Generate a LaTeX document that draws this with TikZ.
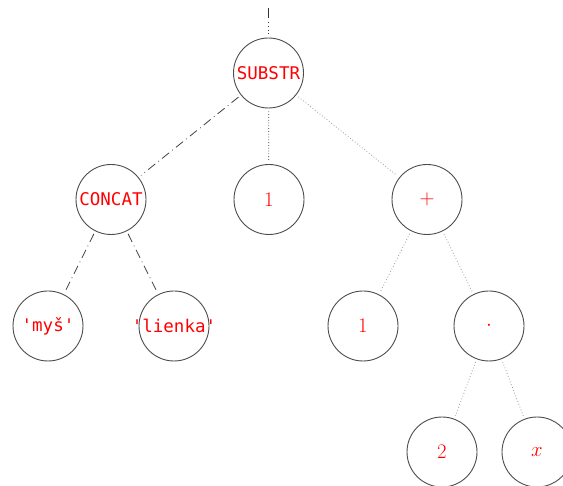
\documentclass[tikz,border=0pt]{standalone}
\usepackage{fontspec}
\newfontfamily\monofont{DejaVu Sans Mono}
\begin{document}
\begin{tikzpicture}[x=1pt,y=-1pt,
  tn/.style={circle,draw=black!70,line width=0.9pt,minimum size=70pt,inner sep=0pt},
  lab/.style={text=red,inner sep=0pt,font=\fontsize{20}{22}\selectfont},
  mono/.style={text=red,inner sep=0pt,font=\fontsize{17.5}{20}\selectfont\monofont},
  dd/.style={draw=black!75,line width=0.8pt,dash pattern=on 9pt off 4pt on 0.8pt off 4pt,shorten <=3pt,shorten >=3pt},
  dk/.style={draw=black!80,line width=0.8pt,dash pattern=on 0.8pt off 2pt,shorten <=3pt,shorten >=3pt},
  lg/.style={draw=black!40,line width=0.8pt,dash pattern=on 0.8pt off 2.2pt,shorten <=3pt,shorten >=3pt}]
\useasboundingbox (0,0) rectangle (563,486);
\node[tn,label={[mono]center:SUBSTR}] (s) at (268.5,73) {};
\node[tn,label={[mono]center:CONCAT}] (c) at (111,199.5) {};
\node[tn,label={[lab]center:$1$}] (o1) at (269,199.5) {};
\node[tn,label={[lab]center:$+$}] (p) at (427,199.5) {};
\node[tn,label={[mono]center:'myš'}] (m) at (48,326) {};
\node[tn,label={[mono]center:'lienka'}] (l) at (174,326) {};
\node[tn,label={[lab]center:$1$}] (o2) at (363,326) {};
\node[tn,label={[lab]center:$\cdot$}] (d) at (489,326) {};
\node[tn,label={[lab]center:$2$}] (t) at (442,452) {};
\node[tn,label={[lab]center:$x$}] (x) at (537,452) {};
\coordinate (top) at (268.5,8);
\draw[draw=black!80,line width=0.8pt,dash pattern=on 10pt off 4pt on 0.8pt off 3pt on 0.8pt off 3pt on 0.8pt off 3pt on 0.8pt off 3pt,shorten >=3pt] (top) -- (s);
\draw[dd] (s) -- (c);
\draw[dk] (s) -- (o1);
\draw[lg] (s) -- (p);
\draw[dd] (c) -- (m);
\draw[dd] (c) -- (l);
\draw[lg] (p) -- (o2);
\draw[lg] (p) -- (d);
\draw[lg] (d) -- (t);
\draw[lg] (d) -- (x);
\end{tikzpicture}
\end{document}
